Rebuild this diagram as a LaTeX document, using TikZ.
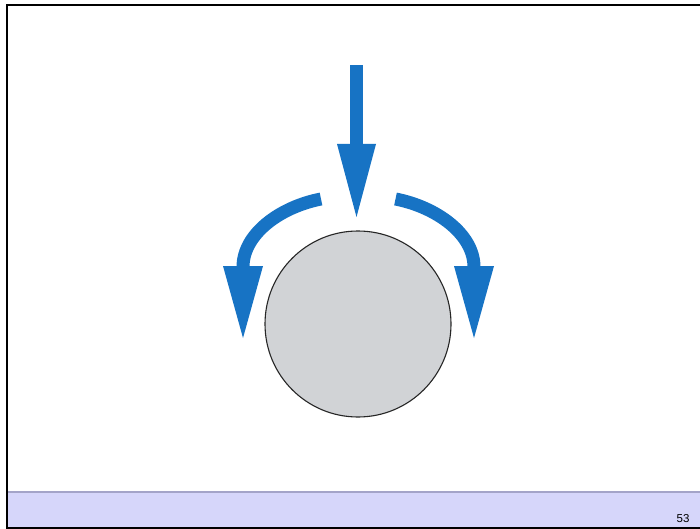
\documentclass[tikz,border=0pt]{standalone}
\usepackage{fontspec}
\setmainfont{Liberation Sans}
\definecolor{arrblue}{HTML}{1773C4}
\definecolor{ballgray}{HTML}{D1D3D6}
\definecolor{barfill}{HTML}{D6D6FA}
\definecolor{barline}{HTML}{A4A4C8}
\tikzset{
  arrowfill/.style={fill=arrblue, draw=none},
  arrowshaft/.style={draw=arrblue, line width=13pt},
}
\begin{document}
\begin{tikzpicture}[x=1pt,y=-1pt]
\useasboundingbox (0,0) rectangle (700,529);
\fill[white] (0,0) rectangle (700,529);
% bottom bar
\fill[barfill] (7,492) rectangle (700,528);
\draw[barline, line width=1.2pt] (7,492) -- (700,492);
\node[font=\fontsize{11.5}{13}\selectfont, anchor=center] (page) at (683,518.5) {53};
% frame
\draw[black, line width=2pt] (700,5) -- (7,5) -- (7,528) -- (700,528);
% ball
\node[circle, draw=black!85, line width=1.1pt, fill=ballgray, minimum size=186pt, inner sep=0pt] (ball) at (358,324) {};
% down arrow
\fill[arrowfill] (350,65) rectangle (363,145);
\fill[arrowfill] (337,144) -- (376,144) -- (356.5,217) -- cycle;
% left curved arrow
\coordinate (ls) at (321,199);
\coordinate (le) at (243,267);
\draw[arrowshaft] (ls) .. controls (280,207) and (243,234) .. (le);
\fill[arrowfill] (223,266) -- (263,266) -- (243,338) -- cycle;
% right curved arrow
\coordinate (rs) at (395.5,199);
\coordinate (re) at (474,267);
\draw[arrowshaft] (rs) .. controls (436.5,207) and (474,234) .. (re);
\fill[arrowfill] (454,266) -- (494,266) -- (474,338) -- cycle;
\end{tikzpicture}
\end{document}
